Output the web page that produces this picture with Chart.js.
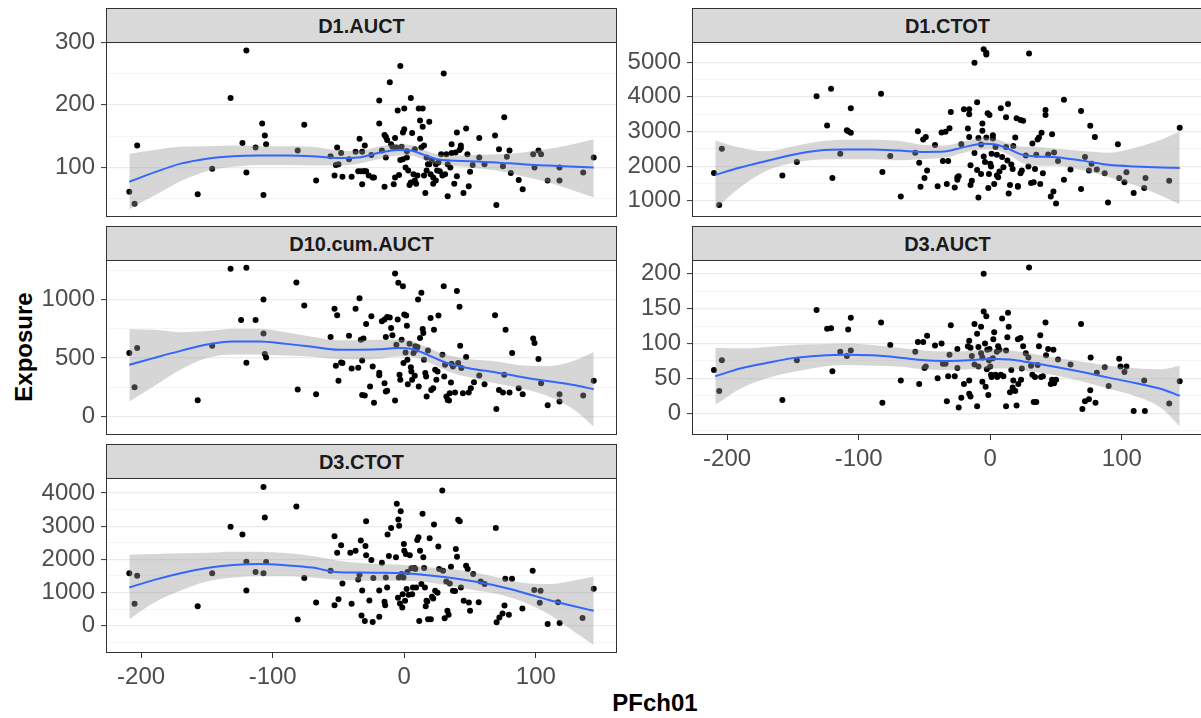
<!DOCTYPE html>
<html>
<head>
<meta charset="utf-8">
<script src="https://cdn.jsdelivr.net/npm/chart.js@4.4.1/dist/chart.umd.min.js"></script>
<style>
  body { margin: 0; width: 1201px; height: 718px; overflow: hidden; background: #fff; position: relative;
         font-family: "Liberation Sans", Arial, sans-serif; }
  .strip { position: absolute; height: 35px; width: 511px; box-sizing: border-box; background: #d9d9d9;
           border: 1px solid #333; font-weight: bold; font-size: 20px; color: #1a1a1a; text-align: center; line-height: 34px; }
  canvas { position: absolute; }
  .axis-title { position: absolute; font-weight: bold; font-size: 24px; line-height: 1; color: #000; white-space: nowrap; }
</style>
</head>
<body>
<div class="axis-title" style="left:655px; top:703px; transform:translate(-50%,-50%);">PFch01</div>
<div class="axis-title" style="left:24px; top:347px; transform:translate(-50%,-50%) rotate(-90deg);">Exposure</div>
<script>
(() => {
	"use strict";

	// PFch01 grid used for the loess smooth / confidence band
	const smoothX = [-209, -190, -170, -150, -130, -110, -90, -70, -50, -35, -20, -5, 5, 15, 25, 35, 50, 70, 90, 110, 130, 144];

	// D1.AUCT
	const d1auctPts = [
		[-209,61],[-205,42],[-203,135],[-157,57],[-146,98],[-132,211],[-123,139],[-120,287],[-120,92],[-113,132],[-108,170],
		[-107,56],[-106,151],[-105,137],[-81,127],[-76,168],[-67,79],[-56,118],[-53,87],[-52,104],[-51,132],[-50,105],[-48,123],
		[-47,85],[-42,113],[-40,85],[-37,125],[-35,94],[-34,146],[-33,94],[-31,94],[-30,94],[-29,94],[-32,125],[-32,73],[-30,135],
		[-27,87],[-25,120],[-24,84],[-23,84],[-19,207],[-19,170],[-17,127],[-15,152],[-15,69],[-14,149],[-14,116],[-13,144],
		[-11,236],[-10,137],[-9,133],[-8,73],[-7,147],[-7,84],[-6,132],[-5,191],[-4,88],[-3,262],[-3,112],[-2,133],[-1,113],
		[-1,156],[0,194],[0,161],[1,100],[2,116],[2,126],[3,95],[4,72],[5,211],[5,76],[6,155],[7,89],[8,129],[8,79],[9,74],
		[10,87],[11,194],[12,175],[12,146],[13,132],[14,165],[14,194],[15,87],[15,135],[16,59],[17,116],[17,95],[18,105],
		[19,105],[19,173],[20,89],[21,111],[22,74],[22,84],[24,105],[24,79],[25,95],[26,108],[27,94],[28,121],[29,87],[30,250],
		[31,89],[32,121],[33,105],[33,54],[35,100],[36,137],[36,123],[38,74],[39,124],[40,156],[40,86],[42,128],[43,131],
		[43,135],[45,59],[47,162],[48,121],[49,70],[50,93],[52,104],[57,147],[57,116],[61,105],[69,151],[70,40],[72,129],
		[75,102],[76,180],[78,117],[80,127],[81,91],[87,80],[90,65],[98,121],[99,100],[102,127],[104,121],[109,79],[118,79],
		[118,100],[136,92],[144,116],
	];
	const d1auctFit = [77, 92, 106, 114, 118, 119, 119, 118, 115, 116, 123, 128, 127, 120, 113, 111, 110, 108, 105, 103, 101, 100];
	const d1auctLo = [33, 55, 78, 94, 101, 104, 104, 103, 103, 106, 113, 119, 119, 112, 105, 103, 100, 95, 86, 76, 62, 52];
	const d1auctHi = [122, 128, 133, 134, 135, 134, 134, 133, 127, 126, 133, 137, 136, 128, 121, 119, 120, 121, 124, 130, 138, 145];

	// D1.CTOT
	const d1ctotPts = [
		[-210,1806],[-206,883],[-204,2505],[-158,1728],[-147,2117],[-132,4020],[-124,3175],[-121,4233],[-120,1660],[-114,2359],
		[-109,3039],[-108,3010],[-106,3670],[-106,2961],[-83,4088],[-82,1835],[-76,2291],[-68,1126],[-57,2389],[-55,3010],
		[-54,2097],[-53,1408],[-51,2767],[-50,1660],[-49,2845],[-48,1874],[-42,2612],[-40,1418],[-37,2971],[-36,2146],[-34,2991],
		[-33,1486],[-32,2146],[-31,3097],[-30,3563],[-27,1388],[-25,1680],[-25,1612],[-24,1709],[-22,2631],[-20,3641],[-17,3088],
		[-16,3641],[-16,2845],[-16,3495],[-15,2029],[-15,1456],[-14,1583],[-12,4981],[-12,2379],[-10,3845],[-10,1893],[-9,2816],
		[-9,1097],[-7,1777],[-7,2622],[-6,3233],[-6,3020],[-5,5370],[-5,2282],[-4,2117],[-3,5272],[-3,2825],[-3,5224],[-2,3525],
		[-1.5,1369],[-1,1777],[-0.6,3476],[0,2068],[0.6,1990],[1,2359],[2,2796],[2,2893],[3,1486],[4,2554],[5,1728],[5,2330],
		[6,1680],[7,1845],[8,3670],[9,2262],[10,1971],[12,2554],[12,3408],[13,2165],[13.5,3796],[14,1214],[15,1456],[16,2049],
		[17,1922],[17.5,2583],[19,2825],[20,3379],[21,1427],[21,1408],[23,3330],[23,1796],[24,1874],[25,3311],[27,2311],[29,1990],
		[29.5,5253],[31,1515],[32,2651],[33,1534],[34,1922],[35,2330],[36,2767],[37,2825],[38,1486],[39,2961],[40,1796],[42,3622],
		[42,3476],[44,2340],[46,1126],[47,2923],[48,1272],[48.5,2398],[50,922],[51.5,2146],[56,1612],[56,3913],[61,1903],[69,3593],
		[69,1340],[72,2262],[75,1874],[76,3165],[77,2068],[79.5,2845],[81,1903],[87,1796],[89.5,951],[97,2631],[98,1660],[102,1534],
		[103.5,1825],[109,1223],[117,1369],[118,1660],[136,1583],[144,3107],
	];
	const d1ctotFit = [1750, 1960, 2150, 2330, 2450, 2480, 2480, 2450, 2410, 2420, 2550, 2650, 2620, 2480, 2320, 2280, 2260, 2160, 2040, 1990, 1960, 1950];
	const d1ctotLo = [760, 1390, 1870, 2090, 2190, 2200, 2200, 2170, 2210, 2240, 2390, 2480, 2460, 2310, 2080, 2010, 2020, 1880, 1690, 1450, 1150, 900];
	const d1ctotHi = [2740, 2530, 2430, 2570, 2710, 2760, 2760, 2730, 2610, 2600, 2710, 2820, 2780, 2650, 2560, 2550, 2500, 2440, 2390, 2530, 2770, 3000];

	// D10.cum.AUCT
	const d10cumPts = [
		[-209,541],[-205,249],[-203,584],[-157,138],[-146,605],[-132,1263],[-124,825],[-120,1272],[-120,458],[-113,825],[-107,708],
		[-107,1000],[-106,533],[-105,504],[-82,1146],[-81,229],[-76,948],[-67,189],[-56,679],[-53,920],[-52,433],[-51,865],[-50,304],
		[-48,461],[-47,456],[-42,690],[-40,410],[-37,920],[-35,415],[-34,1011],[-33,656],[-32,183],[-32,478],[-31,665],[-30,178],
		[-29,791],[-26,255],[-25,857],[-24,427],[-23,117],[-19,372],[-19,352],[-17,814],[-15,828],[-15,284],[-14,212],[-14,679],
		[-13,851],[-13,218],[-11,845],[-10,756],[-9,693],[-7,135],[-7,1223],[-6,613],[-5,828],[-4.5,1143],[-3.6,355],[-3,312],
		[-2,656],[-1,1114],[-0.6,456],[0,871],[1,547],[1.5,862],[2,776],[2.4,484],[2.7,275],[4,622],[5,421],[5.4,384],[6,312],
		[7,541],[8,347],[8.4,599],[9,570],[10,593],[10.5,1000],[11,255],[12,670],[13,1057],[14,748],[14.5,713],[15,484],[16,370],
		[16.6,341],[17,169],[18,564],[20,842],[20.5,226],[22,241],[22.6,742],[23.5,398],[24.4,312],[25.3,384],[26,862],[29,527],
		[30,1114],[30.4,341],[31,441],[32,169],[33,140],[34,135],[34.6,198],[35.5,289],[36,450],[37,427],[38.6,203],[40,1072],
		[41,456],[42,937],[42.5,605],[43.4,413],[44.6,198],[47,507],[49,203],[50.6,241],[53,292],[57,350],[61,275],[69,865],[70,63],
		[72,226],[75,203],[76,355],[77,742],[80,203],[82,541],[87,241],[90,189],[98,665],[99,627],[102,490],[104,284],[109,95],
		[118,189],[118,126],[136,178],[144,304],
	];
	const d10cumFit = [441, 500, 560, 615, 640, 640, 620, 595, 570, 570, 573, 585, 578, 540, 490, 447, 410, 375, 335, 300, 265, 232];
	const d10cumLo = [126, 260, 400, 500, 530, 530, 520, 510, 490, 486, 490, 512, 510, 478, 428, 378, 333, 280, 235, 170, 50, -90];
	const d10cumHi = [748, 740, 720, 730, 750, 750, 720, 680, 650, 652, 655, 658, 645, 603, 553, 518, 488, 470, 435, 430, 480, 550];

	// D3.AUCT
	const d3auctPts = [
		[-210,62],[-206,32],[-204,76],[-158,19],[-147,76],[-132,148],[-124,121],[-121,122],[-120,60],[-114,88],[-109,82],
		[-108,120],[-106,137],[-106,90],[-83,130],[-82,15],[-76,98],[-68,47],[-57,88],[-55,102],[-54,42],[-51,102],[-50,65],
		[-49,67],[-48,111],[-42,97],[-40,50],[-37,100],[-36,71],[-34,71],[-33,17],[-32,53],[-31,84],[-30,126],[-27,53],[-25,92],
		[-25,65],[-24,8],[-22,22],[-20,42],[-17,96],[-16,47],[-16,104],[-16,28],[-15,94],[-15,24],[-14,82],[-12,128],[-12,70],
		[-10,114],[-10,10],[-9,95],[-9,67],[-7,86],[-7,124],[-6,80],[-6,45],[-5,200],[-5,146],[-4,100],[-3.5,38],[-3,139],[-2.6,63],
		[-2.3,91],[-1.5,26],[-1,76],[-0.6,92],[0,67],[0.6,55],[1,52],[2,79],[2.3,106],[3,116],[4,55],[5,88],[5.3,52],[6,96],[7,91],
		[8,55],[9,136],[10,53],[12,10],[12,90],[13,109],[13.5,144],[14,124],[15,30],[16,62],[17,37],[17.5,47],[19,32],[20,11],
		[21,106],[21.3,42],[23,108],[23.4,48],[24,64],[25,96],[27,86],[29,80],[29.5,209],[31,68],[32,55],[33,16],[34,52],[35,16],
		[36,69],[37,96],[38,112],[38.6,52],[40,53],[42,130],[42.4,83],[44,92],[46,42],[47,48],[48,91],[48.5,43],[50,48],[51.5,77],
		[61,70],[69,128],[70,6],[72,17],[75,20],[76,33],[76.3,80],[80,15],[81,58],[87,66],[90,39],[98,78],[99,67],[102,59],[103.5,67],
		[109,3],[117.5,3],[117,47],[136,14],[144,46],
	];
	const d3auctFit = [53, 64, 72, 79, 82.5, 84, 83, 80, 76, 75, 75.7, 77.3, 77.7, 77, 74.3, 71.3, 66.3, 59, 51, 43.3, 34.7, 25];
	const d3auctLo = [12, 35, 50, 59, 66, 69, 68, 67, 63, 62, 62.7, 63.7, 64, 64, 61.3, 58.7, 54, 45.3, 35, 24.7, 7.3, -19];
	const d3auctHi = [94, 93, 95, 98, 99, 100, 98, 94, 90, 88.5, 88.7, 91, 91.3, 90, 87.3, 84.3, 79.7, 73.7, 68, 64.3, 63, 68];

	// D3.CTOT
	const d3ctotPts = [
		[-209,1576],[-205,657],[-203,1505],[-157,586],[-146,1576],[-132,2980],[-123,2747],[-120,1929],[-120,1061],[-113,1616],
		[-107,1576],[-107,4181],[-106,3262],[-105,1919],[-82,3596],[-81,182],[-76,1434],[-67,697],[-56,1656],[-53,2697],[-53,616],
		[-51,2202],[-50,798],[-48,2424],[-47,1273],[-41,2202],[-40,657],[-37,2262],[-35,1394],[-34,1535],[-33,2565],[-32.5,303],
		[-32,1061],[-30,141],[-29.5,2404],[-29,2121],[-29,3151],[-26.5,758],[-25,1980],[-24,111],[-23.5,1434],[-19,1061],[-19,263],
		[-17,1899],[-15,717],[-14.5,616],[-14,1454],[-13,1151],[-12.7,2747],[-11.7,2101],[-10,2949],[-6.3,2060],[-5.7,3676],
		[-4.8,838],[-4.5,3202],[-4.2,1454],[-3.9,3010],[-3.3,667],[-2.7,3454],[-2.1,1555],[-1.5,545],[-1.2,949],[-0.6,1454],
		[-0.3,2464],[0,2262],[0.6,747],[1.2,2161],[1.8,1101],[2.4,1616],[3.3,929],[4.2,2121],[5.4,1727],[6,949],[6.6,1151],
		[7.8,1737],[8.4,1707],[9,1151],[9.9,2586],[10.8,2666],[11.4,141],[12,2262],[13,1252],[13.9,3373],[14.5,2060],[15.1,1737],
		[15.7,1151],[16.3,586],[16.9,747],[17.5,727],[18.1,192],[19.3,2636],[20.2,192],[21.1,869],[22,818],[22.6,3050],[23.5,1050],
		[25.3,990],[25.9,2384],[26.5,1707],[28.9,4080],[29.5,1656],[30.7,222],[31.9,1333],[32.8,444],[33.7,323],[34.6,1273],
		[35.5,1778],[37,1050],[38.6,1040],[39.2,2313],[40.1,2081],[41,3192],[42.2,3151],[43.1,1151],[45.2,747],[47,1808],[48.2,1707],
		[49.1,697],[50,444],[52.4,1555],[56.6,707],[58.1,1333],[61.1,1252],[69.6,2949],[70.2,101],[72.3,242],[74.7,364],[76.2,606],
		[76.8,1414],[79.5,323],[81.9,1414],[89.8,515],[97.6,1656],[98.8,1071],[103,687],[103.6,1050],[109,50],[116.9,707],[118.1,81],
		[135.5,232],[144,1111],
	];
	const d3ctotFit = [1150, 1380, 1580, 1740, 1830, 1860, 1820, 1750, 1610, 1603, 1597, 1588, 1567, 1530, 1490, 1443, 1352, 1200, 1000, 770, 577, 445];
	const d3ctotLo = [190, 700, 1060, 1330, 1450, 1490, 1490, 1450, 1380, 1361, 1355, 1355, 1343, 1320, 1260, 1193, 1090, 960, 720, 340, -207, -590];
	const d3ctotHi = [2140, 2160, 2180, 2200, 2230, 2230, 2190, 2100, 1960, 1893, 1857, 1847, 1817, 1770, 1737, 1707, 1627, 1470, 1290, 1253, 1367, 1480];

	const xTicks = [-200, -100, 0, 100];

	// layout of the facet grid (pixels)
	const colLeft = [106, 692];
	const rowTop = [42, 260, 478];
	const AXIS_W = 100, AXIS_H = 50, PANEL_H = 175, PANEL_W = 511, PAD = 15;

	const panels = [
		{ name: "D1.AUCT", col: 0, row: 0, pts: d1auctPts, fit: d1auctFit, lo: d1auctLo, hi: d1auctHi, yMin: 20.7, yMax: 300.5, minor: 50, major: 100, showX: false },
		{ name: "D1.CTOT", col: 1, row: 0, pts: d1ctotPts, fit: d1ctotFit, lo: d1ctotLo, hi: d1ctotHi, yMin: 534, yMax: 5582, minor: 500, major: 1000, showX: false },
		{ name: "D10.cum.AUCT", col: 0, row: 1, pts: d10cumPts, fit: d10cumFit, lo: d10cumLo, hi: d10cumHi, yMin: -160, yMax: 1338, minor: 250, major: 500, showX: false },
		{ name: "D3.AUCT", col: 1, row: 1, pts: d3auctPts, fit: d3auctFit, lo: d3auctLo, hi: d3auctHi, yMin: -31.3, yMax: 219.8, minor: 25, major: 50, showX: true },
		{ name: "D3.CTOT", col: 0, row: 2, pts: d3ctotPts, fit: d3ctotFit, lo: d3ctotLo, hi: d3ctotHi, yMin: -828, yMax: 4455, minor: 500, major: 1000, showX: true },
	];

	Chart.defaults.font.family = '"Liberation Sans", Arial, sans-serif';

	const panelBorder = {
		id: "panelBorder",
		afterDatasetsDraw(chart) {
			const { ctx, chartArea: a } = chart;
			ctx.save();
			ctx.strokeStyle = "#333333";
			ctx.lineWidth = 1;
			ctx.strokeRect(a.left + 0.5, a.top + 0.5, a.right - a.left - 1, a.bottom - a.top - 1);
			ctx.restore();
		},
	};

	const toXY = (xs, ys) => xs.map((x, i) => ({ x, y: ys[i] }));
	const noPad = (s) => { s.paddingTop = 0; s.paddingBottom = 0; s.paddingLeft = 0; s.paddingRight = 0; };

	panels.forEach((p) => {
		const left = colLeft[p.col];
		const top = rowTop[p.row];

		const strip = document.createElement("div");
		strip.className = "strip";
		strip.style.left = left + "px";
		strip.style.top = (top - 34) + "px";
		strip.textContent = p.name;
		document.body.appendChild(strip);

		// canvas reaches PAD px above the panel so the top tick label is not cut
		const padBottom = p.showX ? 0 : PAD;
		const canvas = document.createElement("canvas");
		canvas.width = AXIS_W + PANEL_W;
		canvas.height = PAD + PANEL_H + (p.showX ? AXIS_H : padBottom);
		canvas.style.left = (left - AXIS_W) + "px";
		canvas.style.top = (top - PAD) + "px";
		document.body.appendChild(canvas);

		const yVals = [];
		for (let v = Math.ceil(p.yMin / p.minor) * p.minor; v <= p.yMax; v += p.minor) yVals.push(v);
		const isMajor = (v) => Math.abs(v % p.major) < 1e-9;

		new Chart(canvas, {
			type: "scatter",
			data: {
				datasets: [
					{
						data: p.pts.map(([x, y]) => ({ x, y })),
						pointRadius: 3,
						pointBackgroundColor: "#000000",
						pointBorderWidth: 0,
						order: 3,
					},
					{
						data: toXY(smoothX, p.lo),
						showLine: true,
						borderWidth: 0,
						pointRadius: 0,
						cubicInterpolationMode: "monotone",
						fill: false,
						order: 2,
					},
					{
						data: toXY(smoothX, p.hi),
						showLine: true,
						borderWidth: 0,
						pointRadius: 0,
						cubicInterpolationMode: "monotone",
						fill: "-1",
						backgroundColor: "rgba(153,153,153,0.4)",
						order: 1,
					},
					{
						data: toXY(smoothX, p.fit),
						showLine: true,
						borderColor: "#3366FF",
						borderWidth: 2,
						pointRadius: 0,
						cubicInterpolationMode: "monotone",
						fill: false,
						order: 0,
					},
				],
			},
			options: {
				responsive: false,
				animation: false,
				layout: { autoPadding: false, padding: { top: PAD, bottom: padBottom, left: 0, right: 0 } },
				plugins: { legend: { display: false }, tooltip: { enabled: false } },
				scales: {
					x: {
						type: "linear",
						min: -226.7,
						max: 161.7,
						display: p.showX,
						afterBuildTicks: (s) => { s.ticks = xTicks.map((v) => ({ value: v })); },
						afterFit: (s) => { s.height = p.showX ? AXIS_H : 0; noPad(s); },
						grid: { drawOnChartArea: false, tickLength: 5, tickColor: "#333333", tickWidth: 1 },
						border: { display: false },
						ticks: { color: "#4d4d4d", font: { size: 24 }, padding: 5, callback: (v) => String(v), maxRotation: 0 },
					},
					y: {
						type: "linear",
						min: p.yMin,
						max: p.yMax,
						afterBuildTicks: (s) => { s.ticks = yVals.map((v) => ({ value: v })); },
						afterFit: (s) => { s.width = AXIS_W; noPad(s); },
						grid: {
							color: (c) => (c.tick && isMajor(c.tick.value) ? "#ebebeb" : "#f3f3f3"),
							lineWidth: (c) => (c.tick && isMajor(c.tick.value) ? 1.2 : 0.8),
							tickLength: 5,
							tickColor: (c) => (c.tick && isMajor(c.tick.value) ? "#333333" : "rgba(0,0,0,0)"),
							tickWidth: 1,
						},
						border: { display: false },
						ticks: {
							color: "#4d4d4d",
							font: { size: 24 },
							padding: 6,
							autoSkip: false,
							callback: (v) => (isMajor(v) ? String(v) : ""),
						},
					},
				},
			},
			plugins: [panelBorder],
		});
	});
})();
</script>
</body>
</html>
